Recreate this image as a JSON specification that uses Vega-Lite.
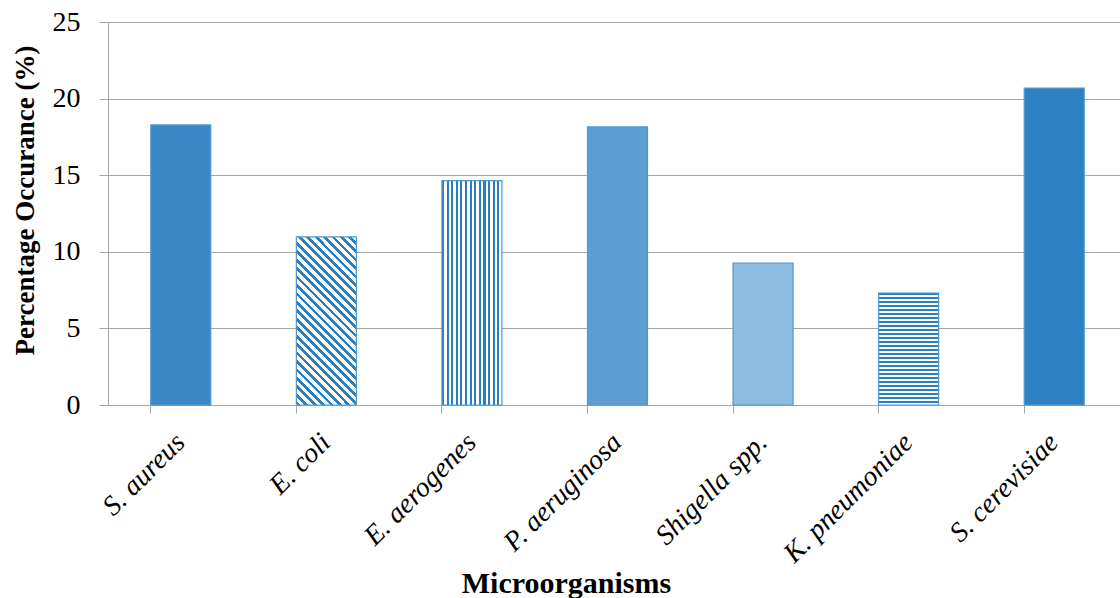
{
  "$schema": "https://vega.github.io/schema/vega-lite/v6.json",
  "width": 1012,
  "height": 383,
  "autosize": "none",
  "padding": {"left": 108, "top": 22, "right": 0, "bottom": 193},
  "background": "white",
  "config": {"view": {"stroke": null}, "font": "Liberation Serif"},
  "data": {"values": [
    {"org": "S. aureus", "pct": 18.28},
    {"org": "E. coli", "pct": 10.97},
    {"org": "E. aerogenes", "pct": 14.64},
    {"org": "P. aeruginosa", "pct": 18.15},
    {"org": "Shigella spp.", "pct": 9.27},
    {"org": "K. pneumoniae", "pct": 7.31},
    {"org": "S. cerevisiae", "pct": 20.69}
  ]},
  "mark": {"type": "bar", "stroke": "#4f97d0", "strokeWidth": 1.2},
  "encoding": {
    "x": {
      "field": "org", "type": "nominal", "sort": null,
      "scale": {"range": [0, 1019], "paddingInner": 0.588, "paddingOuter": 0.294},
      "axis": {
        "title": "Microorganisms",
        "titleFont": "Liberation Serif", "titleFontSize": 30, "titleFontWeight": "bold", "titleColor": "black",
        "titleX": 458, "titleY": 187, "titleBaseline": "alphabetic", "titleAnchor": null, "titleAlign": "center",
        "labelFont": "Liberation Serif", "labelFontStyle": "italic", "labelFontSize": 28, "labelColor": "black",
        "labelAngle": -45, "labelAlign": "right", "labelBaseline": "middle", "labelPadding": 25,
        "bandPosition": 0, "tickSize": 8, "tickColor": "#a6a6a6", "domainColor": "#a6a6a6", "grid": false
      }
    },
    "y": {
      "field": "pct", "type": "quantitative",
      "scale": {"domain": [0, 25], "nice": false},
      "axis": {
        "title": "Percentage Occurance (%)",
        "titleFont": "Liberation Serif", "titleFontSize": 27, "titleFontWeight": "bold", "titleColor": "black",
        "titleX": -69, "titleY": 178,
        "values": [0, 5, 10, 15, 20, 25],
        "labelFont": "Liberation Serif", "labelFontSize": 28, "labelColor": "black", "labelPadding": 19,
        "tickSize": 9, "tickColor": "#a6a6a6", "domainColor": "#a6a6a6",
        "grid": true, "gridColor": "#a6a6a6", "gridWidth": 1
      }
    },
    "fill": {
      "condition": [
        {"test": "datum.org === 'S. aureus'", "value": "#3a88c6"},
        {"test": "datum.org === 'P. aeruginosa'", "value": "#5e9fd3"},
        {"test": "datum.org === 'Shigella spp.'", "value": "#8ebde2"},
        {"test": "datum.org === 'E. aerogenes'", "value": {"gradient": "linear", "x1": 0, "y1": 0, "x2": 1, "y2": 0, "stops": [
          {"offset": 0, "color": "#2a7fc0"}, {"offset": 0.0346, "color": "#2a7fc0"}, {"offset": 0.0346, "color": "#ffffff"}, {"offset": 0.0769, "color": "#ffffff"},
          {"offset": 0.0769, "color": "#2a7fc0"}, {"offset": 0.1115, "color": "#2a7fc0"}, {"offset": 0.1115, "color": "#ffffff"}, {"offset": 0.1538, "color": "#ffffff"},
          {"offset": 0.1538, "color": "#2a7fc0"}, {"offset": 0.1884, "color": "#2a7fc0"}, {"offset": 0.1884, "color": "#ffffff"}, {"offset": 0.2308, "color": "#ffffff"},
          {"offset": 0.2308, "color": "#2a7fc0"}, {"offset": 0.2654, "color": "#2a7fc0"}, {"offset": 0.2654, "color": "#ffffff"}, {"offset": 0.3077, "color": "#ffffff"},
          {"offset": 0.3077, "color": "#2a7fc0"}, {"offset": 0.3423, "color": "#2a7fc0"}, {"offset": 0.3423, "color": "#ffffff"}, {"offset": 0.3846, "color": "#ffffff"},
          {"offset": 0.3846, "color": "#2a7fc0"}, {"offset": 0.4192, "color": "#2a7fc0"}, {"offset": 0.4192, "color": "#ffffff"}, {"offset": 0.4615, "color": "#ffffff"},
          {"offset": 0.4615, "color": "#2a7fc0"}, {"offset": 0.4961, "color": "#2a7fc0"}, {"offset": 0.4961, "color": "#ffffff"}, {"offset": 0.5385, "color": "#ffffff"},
          {"offset": 0.5385, "color": "#2a7fc0"}, {"offset": 0.5731, "color": "#2a7fc0"}, {"offset": 0.5731, "color": "#ffffff"}, {"offset": 0.6154, "color": "#ffffff"},
          {"offset": 0.6154, "color": "#2a7fc0"}, {"offset": 0.65, "color": "#2a7fc0"}, {"offset": 0.65, "color": "#ffffff"}, {"offset": 0.6923, "color": "#ffffff"},
          {"offset": 0.6923, "color": "#2a7fc0"}, {"offset": 0.7269, "color": "#2a7fc0"}, {"offset": 0.7269, "color": "#ffffff"}, {"offset": 0.7692, "color": "#ffffff"},
          {"offset": 0.7692, "color": "#2a7fc0"}, {"offset": 0.8038, "color": "#2a7fc0"}, {"offset": 0.8038, "color": "#ffffff"}, {"offset": 0.8462, "color": "#ffffff"},
          {"offset": 0.8462, "color": "#2a7fc0"}, {"offset": 0.8808, "color": "#2a7fc0"}, {"offset": 0.8808, "color": "#ffffff"}, {"offset": 0.9231, "color": "#ffffff"},
          {"offset": 0.9231, "color": "#2a7fc0"}, {"offset": 0.9577, "color": "#2a7fc0"}, {"offset": 0.9577, "color": "#ffffff"}, {"offset": 1, "color": "#ffffff"}
        ]}},
        {"test": "datum.org === 'K. pneumoniae'", "value": {"gradient": "linear", "x1": 0, "y1": 0, "x2": 0, "y2": 1, "stops": [
          {"offset": 0, "color": "#2a7fc0"}, {"offset": 0.0143, "color": "#2a7fc0"}, {"offset": 0.0143, "color": "#ffffff"}, {"offset": 0.0357, "color": "#ffffff"},
          {"offset": 0.0357, "color": "#2a7fc0"}, {"offset": 0.05, "color": "#2a7fc0"}, {"offset": 0.05, "color": "#ffffff"}, {"offset": 0.0714, "color": "#ffffff"},
          {"offset": 0.0714, "color": "#2a7fc0"}, {"offset": 0.0857, "color": "#2a7fc0"}, {"offset": 0.0857, "color": "#ffffff"}, {"offset": 0.1071, "color": "#ffffff"},
          {"offset": 0.1071, "color": "#2a7fc0"}, {"offset": 0.1214, "color": "#2a7fc0"}, {"offset": 0.1214, "color": "#ffffff"}, {"offset": 0.1429, "color": "#ffffff"},
          {"offset": 0.1429, "color": "#2a7fc0"}, {"offset": 0.1571, "color": "#2a7fc0"}, {"offset": 0.1571, "color": "#ffffff"}, {"offset": 0.1786, "color": "#ffffff"},
          {"offset": 0.1786, "color": "#2a7fc0"}, {"offset": 0.1929, "color": "#2a7fc0"}, {"offset": 0.1929, "color": "#ffffff"}, {"offset": 0.2143, "color": "#ffffff"},
          {"offset": 0.2143, "color": "#2a7fc0"}, {"offset": 0.2286, "color": "#2a7fc0"}, {"offset": 0.2286, "color": "#ffffff"}, {"offset": 0.25, "color": "#ffffff"},
          {"offset": 0.25, "color": "#2a7fc0"}, {"offset": 0.2643, "color": "#2a7fc0"}, {"offset": 0.2643, "color": "#ffffff"}, {"offset": 0.2857, "color": "#ffffff"},
          {"offset": 0.2857, "color": "#2a7fc0"}, {"offset": 0.3, "color": "#2a7fc0"}, {"offset": 0.3, "color": "#ffffff"}, {"offset": 0.3214, "color": "#ffffff"},
          {"offset": 0.3214, "color": "#2a7fc0"}, {"offset": 0.3357, "color": "#2a7fc0"}, {"offset": 0.3357, "color": "#ffffff"}, {"offset": 0.3571, "color": "#ffffff"},
          {"offset": 0.3571, "color": "#2a7fc0"}, {"offset": 0.3714, "color": "#2a7fc0"}, {"offset": 0.3714, "color": "#ffffff"}, {"offset": 0.3929, "color": "#ffffff"},
          {"offset": 0.3929, "color": "#2a7fc0"}, {"offset": 0.4071, "color": "#2a7fc0"}, {"offset": 0.4071, "color": "#ffffff"}, {"offset": 0.4286, "color": "#ffffff"},
          {"offset": 0.4286, "color": "#2a7fc0"}, {"offset": 0.4429, "color": "#2a7fc0"}, {"offset": 0.4429, "color": "#ffffff"}, {"offset": 0.4643, "color": "#ffffff"},
          {"offset": 0.4643, "color": "#2a7fc0"}, {"offset": 0.4786, "color": "#2a7fc0"}, {"offset": 0.4786, "color": "#ffffff"}, {"offset": 0.5, "color": "#ffffff"},
          {"offset": 0.5, "color": "#2a7fc0"}, {"offset": 0.5143, "color": "#2a7fc0"}, {"offset": 0.5143, "color": "#ffffff"}, {"offset": 0.5357, "color": "#ffffff"},
          {"offset": 0.5357, "color": "#2a7fc0"}, {"offset": 0.55, "color": "#2a7fc0"}, {"offset": 0.55, "color": "#ffffff"}, {"offset": 0.5714, "color": "#ffffff"},
          {"offset": 0.5714, "color": "#2a7fc0"}, {"offset": 0.5857, "color": "#2a7fc0"}, {"offset": 0.5857, "color": "#ffffff"}, {"offset": 0.6071, "color": "#ffffff"},
          {"offset": 0.6071, "color": "#2a7fc0"}, {"offset": 0.6214, "color": "#2a7fc0"}, {"offset": 0.6214, "color": "#ffffff"}, {"offset": 0.6429, "color": "#ffffff"},
          {"offset": 0.6429, "color": "#2a7fc0"}, {"offset": 0.6571, "color": "#2a7fc0"}, {"offset": 0.6571, "color": "#ffffff"}, {"offset": 0.6786, "color": "#ffffff"},
          {"offset": 0.6786, "color": "#2a7fc0"}, {"offset": 0.6929, "color": "#2a7fc0"}, {"offset": 0.6929, "color": "#ffffff"}, {"offset": 0.7143, "color": "#ffffff"},
          {"offset": 0.7143, "color": "#2a7fc0"}, {"offset": 0.7286, "color": "#2a7fc0"}, {"offset": 0.7286, "color": "#ffffff"}, {"offset": 0.75, "color": "#ffffff"},
          {"offset": 0.75, "color": "#2a7fc0"}, {"offset": 0.7643, "color": "#2a7fc0"}, {"offset": 0.7643, "color": "#ffffff"}, {"offset": 0.7857, "color": "#ffffff"},
          {"offset": 0.7857, "color": "#2a7fc0"}, {"offset": 0.8, "color": "#2a7fc0"}, {"offset": 0.8, "color": "#ffffff"}, {"offset": 0.8214, "color": "#ffffff"},
          {"offset": 0.8214, "color": "#2a7fc0"}, {"offset": 0.8357, "color": "#2a7fc0"}, {"offset": 0.8357, "color": "#ffffff"}, {"offset": 0.8571, "color": "#ffffff"},
          {"offset": 0.8571, "color": "#2a7fc0"}, {"offset": 0.8714, "color": "#2a7fc0"}, {"offset": 0.8714, "color": "#ffffff"}, {"offset": 0.8929, "color": "#ffffff"},
          {"offset": 0.8929, "color": "#2a7fc0"}, {"offset": 0.9071, "color": "#2a7fc0"}, {"offset": 0.9071, "color": "#ffffff"}, {"offset": 0.9286, "color": "#ffffff"},
          {"offset": 0.9286, "color": "#2a7fc0"}, {"offset": 0.9429, "color": "#2a7fc0"}, {"offset": 0.9429, "color": "#ffffff"}, {"offset": 0.9643, "color": "#ffffff"},
          {"offset": 0.9643, "color": "#2a7fc0"}, {"offset": 0.9786, "color": "#2a7fc0"}, {"offset": 0.9786, "color": "#ffffff"}, {"offset": 1, "color": "#ffffff"}
        ]}},
        {"test": "datum.org === 'E. coli'", "value": {"gradient": "linear", "x1": 0, "y1": 1, "x2": 0.43, "y2": -0.2036, "stops": [
          {"offset": 0, "color": "#2a7fc0"}, {"offset": 0.0167, "color": "#2a7fc0"}, {"offset": 0.0167, "color": "#ffffff"}, {"offset": 0.037, "color": "#ffffff"},
          {"offset": 0.037, "color": "#2a7fc0"}, {"offset": 0.0537, "color": "#2a7fc0"}, {"offset": 0.0537, "color": "#ffffff"}, {"offset": 0.0741, "color": "#ffffff"},
          {"offset": 0.0741, "color": "#2a7fc0"}, {"offset": 0.0907, "color": "#2a7fc0"}, {"offset": 0.0907, "color": "#ffffff"}, {"offset": 0.1111, "color": "#ffffff"},
          {"offset": 0.1111, "color": "#2a7fc0"}, {"offset": 0.1278, "color": "#2a7fc0"}, {"offset": 0.1278, "color": "#ffffff"}, {"offset": 0.1481, "color": "#ffffff"},
          {"offset": 0.1481, "color": "#2a7fc0"}, {"offset": 0.1648, "color": "#2a7fc0"}, {"offset": 0.1648, "color": "#ffffff"}, {"offset": 0.1852, "color": "#ffffff"},
          {"offset": 0.1852, "color": "#2a7fc0"}, {"offset": 0.2019, "color": "#2a7fc0"}, {"offset": 0.2019, "color": "#ffffff"}, {"offset": 0.2222, "color": "#ffffff"},
          {"offset": 0.2222, "color": "#2a7fc0"}, {"offset": 0.2389, "color": "#2a7fc0"}, {"offset": 0.2389, "color": "#ffffff"}, {"offset": 0.2593, "color": "#ffffff"},
          {"offset": 0.2593, "color": "#2a7fc0"}, {"offset": 0.2759, "color": "#2a7fc0"}, {"offset": 0.2759, "color": "#ffffff"}, {"offset": 0.2963, "color": "#ffffff"},
          {"offset": 0.2963, "color": "#2a7fc0"}, {"offset": 0.313, "color": "#2a7fc0"}, {"offset": 0.313, "color": "#ffffff"}, {"offset": 0.3333, "color": "#ffffff"},
          {"offset": 0.3333, "color": "#2a7fc0"}, {"offset": 0.35, "color": "#2a7fc0"}, {"offset": 0.35, "color": "#ffffff"}, {"offset": 0.3704, "color": "#ffffff"},
          {"offset": 0.3704, "color": "#2a7fc0"}, {"offset": 0.387, "color": "#2a7fc0"}, {"offset": 0.387, "color": "#ffffff"}, {"offset": 0.4074, "color": "#ffffff"},
          {"offset": 0.4074, "color": "#2a7fc0"}, {"offset": 0.4241, "color": "#2a7fc0"}, {"offset": 0.4241, "color": "#ffffff"}, {"offset": 0.4444, "color": "#ffffff"},
          {"offset": 0.4444, "color": "#2a7fc0"}, {"offset": 0.4611, "color": "#2a7fc0"}, {"offset": 0.4611, "color": "#ffffff"}, {"offset": 0.4815, "color": "#ffffff"},
          {"offset": 0.4815, "color": "#2a7fc0"}, {"offset": 0.4981, "color": "#2a7fc0"}, {"offset": 0.4981, "color": "#ffffff"}, {"offset": 0.5185, "color": "#ffffff"},
          {"offset": 0.5185, "color": "#2a7fc0"}, {"offset": 0.5352, "color": "#2a7fc0"}, {"offset": 0.5352, "color": "#ffffff"}, {"offset": 0.5556, "color": "#ffffff"},
          {"offset": 0.5556, "color": "#2a7fc0"}, {"offset": 0.5722, "color": "#2a7fc0"}, {"offset": 0.5722, "color": "#ffffff"}, {"offset": 0.5926, "color": "#ffffff"},
          {"offset": 0.5926, "color": "#2a7fc0"}, {"offset": 0.6093, "color": "#2a7fc0"}, {"offset": 0.6093, "color": "#ffffff"}, {"offset": 0.6296, "color": "#ffffff"},
          {"offset": 0.6296, "color": "#2a7fc0"}, {"offset": 0.6463, "color": "#2a7fc0"}, {"offset": 0.6463, "color": "#ffffff"}, {"offset": 0.6667, "color": "#ffffff"},
          {"offset": 0.6667, "color": "#2a7fc0"}, {"offset": 0.6833, "color": "#2a7fc0"}, {"offset": 0.6833, "color": "#ffffff"}, {"offset": 0.7037, "color": "#ffffff"},
          {"offset": 0.7037, "color": "#2a7fc0"}, {"offset": 0.7204, "color": "#2a7fc0"}, {"offset": 0.7204, "color": "#ffffff"}, {"offset": 0.7407, "color": "#ffffff"},
          {"offset": 0.7407, "color": "#2a7fc0"}, {"offset": 0.7574, "color": "#2a7fc0"}, {"offset": 0.7574, "color": "#ffffff"}, {"offset": 0.7778, "color": "#ffffff"},
          {"offset": 0.7778, "color": "#2a7fc0"}, {"offset": 0.7944, "color": "#2a7fc0"}, {"offset": 0.7944, "color": "#ffffff"}, {"offset": 0.8148, "color": "#ffffff"},
          {"offset": 0.8148, "color": "#2a7fc0"}, {"offset": 0.8315, "color": "#2a7fc0"}, {"offset": 0.8315, "color": "#ffffff"}, {"offset": 0.8519, "color": "#ffffff"},
          {"offset": 0.8519, "color": "#2a7fc0"}, {"offset": 0.8685, "color": "#2a7fc0"}, {"offset": 0.8685, "color": "#ffffff"}, {"offset": 0.8889, "color": "#ffffff"},
          {"offset": 0.8889, "color": "#2a7fc0"}, {"offset": 0.9056, "color": "#2a7fc0"}, {"offset": 0.9056, "color": "#ffffff"}, {"offset": 0.9259, "color": "#ffffff"},
          {"offset": 0.9259, "color": "#2a7fc0"}, {"offset": 0.9426, "color": "#2a7fc0"}, {"offset": 0.9426, "color": "#ffffff"}, {"offset": 0.963, "color": "#ffffff"},
          {"offset": 0.963, "color": "#2a7fc0"}, {"offset": 0.9796, "color": "#2a7fc0"}, {"offset": 0.9796, "color": "#ffffff"}, {"offset": 1, "color": "#ffffff"}
        ]}}
      ],
      "value": "#2d81c2"
    }
  }
}
